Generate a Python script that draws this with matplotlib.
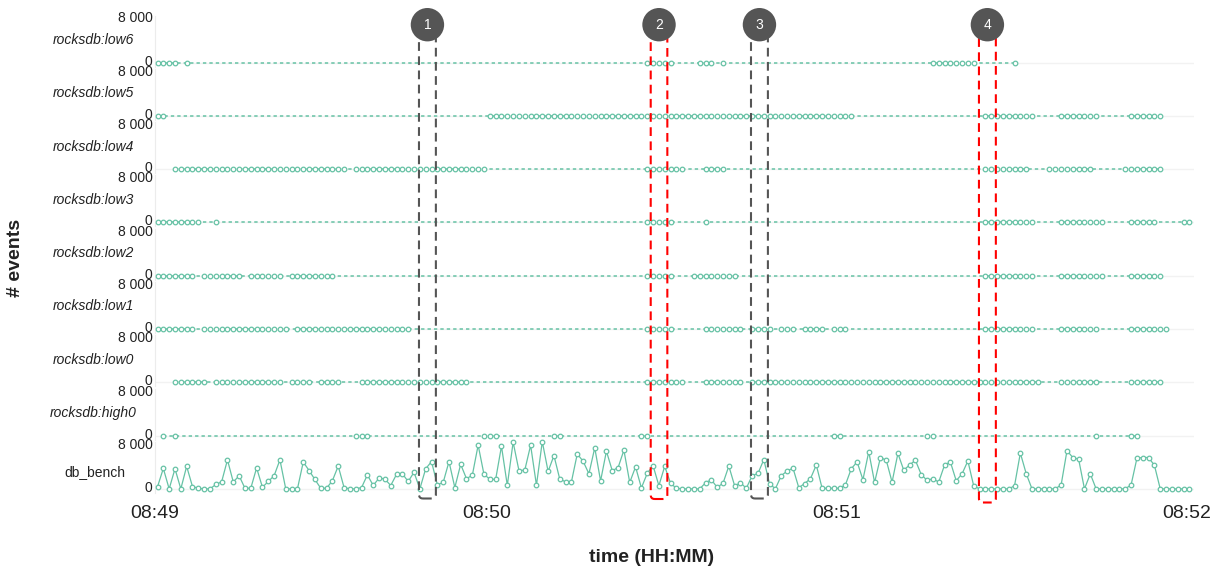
import matplotlib
matplotlib.use("Agg")
import matplotlib.pyplot as plt
import numpy as np
from matplotlib.patches import FancyBboxPatch, Circle
from matplotlib.transforms import IdentityTransform, ScaledTranslation

plt.rcParams['font.family'] = ['Liberation Sans', 'DejaVu Sans']

# ---------------- data ----------------
start_sec = 3.5          # first sample, seconds after 08:49:00
n_samples = 178          # one sample per second
tick_seconds = [60, 120, 180]
tick_labels = ['08:49', '08:50', '08:51', '08:52']

row_names = ['rocksdb:low6', 'rocksdb:low5', 'rocksdb:low4', 'rocksdb:low3',
             'rocksdb:low2', 'rocksdb:low1', 'rocksdb:low0', 'rocksdb:high0']

# sample-index runs (inclusive) where each thread reported events
runs_low6 = [(0, 3), (5, 5), (84, 88), (93, 95), (97, 97), (133, 140), (147, 147)]
runs_low5 = [(0, 1), (57, 119), (142, 150), (155, 161), (167, 172)]
runs_low4 = [(3, 32), (34, 56), (84, 90), (94, 97), (142, 149), (153, 160), (166, 172)]
runs_low3 = [(0, 7), (10, 10), (84, 88), (94, 94), (142, 150), (155, 162), (167, 171), (176, 177)]
runs_low2 = [(0, 6), (8, 14), (16, 21), (23, 30), (84, 88), (92, 99), (142, 150), (155, 162), (167, 172)]
runs_low1 = [(0, 6), (8, 22), (24, 43), (84, 88), (94, 100), (102, 105), (107, 109), (111, 114),
             (116, 118), (142, 150), (155, 161), (167, 173)]
runs_low0 = [(3, 8), (10, 21), (23, 26), (28, 31), (35, 53), (84, 90), (94, 100), (102, 151),
             (155, 161), (167, 172)]
runs_high0 = [(1, 1), (3, 3), (34, 36), (56, 58), (68, 69), (83, 84), (116, 117), (132, 133),
              (161, 161), (167, 168)]
row_runs = [runs_low6, runs_low5, runs_low4, runs_low3, runs_low2, runs_low1, runs_low0, runs_high0]

db_bench = [
    400, 3800, 0, 3750, 0, 4200, 440, 120, 0, 0,
    820, 1320, 5400, 1280, 2450, 120, 120, 3900, 310, 1380,
    2450, 5400, 0, 0, 0, 5000, 3420, 1750, 120, 120,
    1530, 4250, 250, 0, 0, 250, 2600, 650, 2000, 1850,
    630, 2700, 2820, 1380, 3100, 0, 3750, 5080, 760, 1200,
    5080, 250, 4570, 1900, 2540, 8150, 2700, 1820, 1750, 7950,
    650, 8700, 3400, 3500, 8120, 690, 8800, 3250, 6200, 1820,
    1320, 1320, 6500, 5150, 2820, 7650, 1480, 7020, 3400, 3950,
    7200, 1200, 4100, 190, 2880, 4350, 600, 4200, 1060, 120,
    0, 0, 0, 0, 1130, 1700, 280, 1060, 4250, 560,
    1130, 120, 2480, 2880, 5450, 850, 60, 2480, 3320, 3880,
    220, 1000, 1900, 4450, 120, 120, 120, 120, 760, 3750,
    5020, 1715, 6920, 1200, 5840, 5330, 1270, 6600, 3490, 4445,
    5330, 2670, 1590, 1900, 1270, 4445, 5020, 1520, 2800, 5200,
    570, 0, 0, 0, 0, 0, 0, 570, 6670, 2860,
    0, 0, 0, 0, 0, 760, 7110, 5840, 5520, 0,
    2800, 0, 0, 0, 0, 0, 0, 760, 5715, 5840,
    5840, 4380, 0, 0, 0, 0, 0, 0]

annot_labels = ['1', '2', '3', '4']
annot_start = [48.35, 88.1, 105.3, 144.4]   # seconds after 08:49:00
annot_end = [51.25, 90.95, 108.2, 147.3]
annot_colors = ['#555555', '#ff0000', '#555555', '#ff0000']
annot_bottom = [498.5, 499.0, 498.5, 502.5]  # px from top

# ---------------- layout / style ----------------
W, H, DPI = 1227, 570, 100
teal = '#66c2a5'
txt = '#222222'
px_per_sec = 5.83
first_px = 157.5
xlim = (start_sec - 0.5, start_sec + n_samples - 1 + 0.8)
ax_left = first_px - 0.5 * px_per_sec
ax_right = first_px + (xlim[1] - start_sec) * px_per_sec
zero0, row_step, row_h = 62.5, 53.3, 43.0
pad = 4.0
vpp = 8000 / row_h

fig = plt.figure(figsize=(W / DPI, H / DPI), dpi=DPI)
t_all = start_sec + np.arange(n_samples)
label_shift = ScaledTranslation(0, 2.5 / DPI, fig.dpi_scale_trans)

axes = []
names = row_names + ['db_bench']
for k, name in enumerate(names):
    y0 = zero0 + k * row_step
    top = y0 - row_h - pad
    bot = y0 + pad
    ax = fig.add_axes([ax_left / W, (H - bot) / H, (ax_right - ax_left) / W, (bot - top) / H])
    ax.set_xlim(*xlim)
    ax.set_ylim(-pad * vpp, 8000 + pad * vpp)
    ax.set_facecolor('none')
    for s in ['top', 'right', 'bottom']:
        ax.spines[s].set_visible(False)
    ax.spines['left'].set_color('#ececec')
    ax.spines['left'].set_linewidth(0.8)
    ax.axhline(0, color='#f2f2f2', lw=1.0, zorder=0)
    ax.set_yticks([0, 8000])
    ax.set_yticklabels(['0', '8 000'])
    ax.tick_params(axis='y', length=0, pad=1.5, labelsize=10, labelcolor=txt)
    for lbl in ax.get_yticklabels():
        lbl.set_transform(lbl.get_transform() + label_shift)
    if k < len(row_names):
        idx = np.concatenate([np.arange(a, b + 1) for a, b in row_runs[k]])
        t = start_sec + idx
        ax.plot([t.min(), t.max()], [0, 0], color=teal, lw=1.1, ls=(0, (2.2, 2.0)), zorder=2)
        ax.plot(t, np.zeros_like(t), ls='none', marker='o', ms=3.3, mfc='white', mec=teal,
                mew=0.9, zorder=3, clip_on=False)
        fig.text(93 / W, 1 - (y0 - 22.5) / H, name, ha='center', va='center', fontsize=10,
                 style='italic', color=txt)
        ax.set_xticks([])
    else:
        ax.plot(t_all, db_bench, color=teal, lw=0.9, marker='o', ms=3.3, mfc='white', mec=teal,
                mew=0.9, zorder=3, clip_on=False)
        fig.text(95 / W, 1 - (y0 - 16.5) / H, name, ha='center', va='center', fontsize=10,
                 color=txt)
        ax.set_xticks([xlim[0]] + tick_seconds)
        ax.set_xticklabels(tick_labels)
        ax.tick_params(axis='x', length=0, pad=9, labelsize=14, labelcolor=txt)
    axes.append(ax)

bottom_ax = axes[-1]
fig.text(652 / W, 1 - 558 / H, 'time (HH:MM)', ha='center', va='center', fontsize=14,
         fontweight='bold', color=txt)
fig.text(15 / W, 1 - 258 / H, '# events', ha='center', va='center', fontsize=14,
         fontweight='bold', rotation=90, color=txt)

# annotations (rounded dashed boxes with numbered circles)
ident = IdentityTransform()
box_top = 35.0
circ_y = 24.7
for lab, s0, s1, col, yb in zip(annot_labels, annot_start, annot_end, annot_colors, annot_bottom):
    x0 = bottom_ax.transData.transform((s0, 0))[0]
    x1 = bottom_ax.transData.transform((s1, 0))[0]
    patch = FancyBboxPatch((x0, H - yb), x1 - x0, yb - box_top,
                           boxstyle='round,pad=0,rounding_size=4', transform=ident,
                           fill=False, ec=col, lw=1.5, ls=(0, (4.2, 2.6)), zorder=5)
    fig.add_artist(patch)
    xc = (x0 + x1) / 2
    circ = Circle((xc, H - circ_y), radius=16.7, transform=ident, fc='#555555', ec='none', zorder=10)
    fig.add_artist(circ)
    fig.text(xc, H - circ_y, lab, transform=ident, ha='center', va='center', fontsize=10,
             color='white', zorder=11)

fig.savefig('out.png', dpi=DPI)
